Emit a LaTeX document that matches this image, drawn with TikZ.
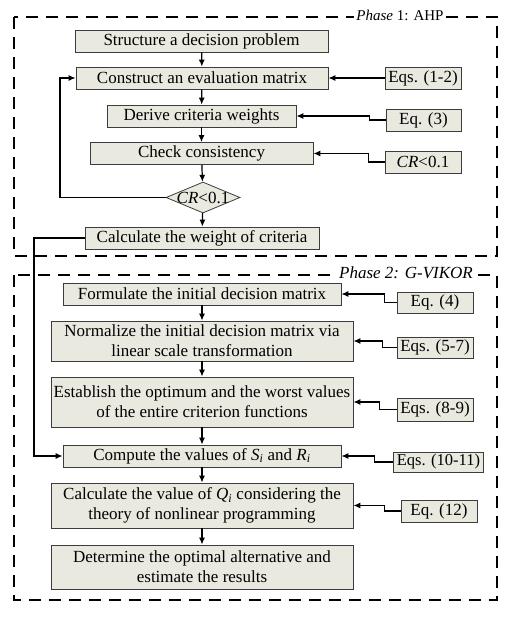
\documentclass[tikz,border=0pt]{standalone}
\usepackage{fontspec}
\setmainfont{Liberation Serif}
\usepackage{tikz}
\usetikzlibrary{arrows.meta,shapes.geometric}
\definecolor{BoxFill}{HTML}{E9E9E0}
\definecolor{BoxLine}{HTML}{3C3C3C}

\begin{document}
\begin{tikzpicture}[x=1pt,y=-1pt,
  stepbox/.style={draw=BoxLine,fill=BoxFill,line width=.8pt,inner sep=0pt,align=center,font=\fontsize{17}{20}\selectfont},
  eqbox/.style={draw=BoxLine,fill=BoxFill,line width=.8pt,inner sep=0pt,minimum height=22pt,font=\fontsize{17}{20}\selectfont},
  flow/.style={-{Latex[length=7pt,width=6pt]},line width=1.2pt},
  phase/.style={dash pattern=on 12pt off 8pt,line width=1.6pt},
  phaselabel/.style={fill=white,inner sep=2pt}]
\useasboundingbox (0,0) rectangle (515,619);
% phase frames
\draw[phase] (14,17) rectangle (497,256);
\node[phaselabel,font=\fontsize{15}{17}\selectfont] (ph1) at (400,15) {\textit{Phase} 1: AHP};
\draw[phase] (14,275) rectangle (497,600);
\node[phaselabel,font=\fontsize{17}{19}\selectfont] (ph2) at (406,273) {\textit{Phase 2: G-VIKOR}};
% phase 1 steps
\node[stepbox,minimum width=253pt,minimum height=22pt] (struct) at (201.5,41) {Structure a decision problem};
\node[stepbox,minimum width=252pt,minimum height=22pt] (constr) at (202,78) {Construct an evaluation matrix};
\node[stepbox,minimum width=189pt,minimum height=22pt] (derive) at (201.5,116) {Derive criteria weights};
\node[stepbox,minimum width=223pt,minimum height=22pt] (check) at (201.5,153.5) {Check consistency};
\node[diamond,draw=BoxLine,fill=BoxFill,line width=.8pt,inner sep=-6pt,aspect=2.4,minimum width=74pt,minimum height=31pt,font=\fontsize{17}{20}\selectfont] (cr) at (203,197.5) {\textit{CR}<0.1};
\node[stepbox,minimum width=234pt,minimum height=22pt] (weight) at (202,238) {Calculate the weight of criteria};
% phase 1 equations
\node[eqbox,minimum width=76pt] (e12) at (423,78) {Eqs. (1-2)};
\node[eqbox,minimum width=75pt] (e3) at (423.5,120) {Eq. (3)};
\node[eqbox,minimum width=76pt] (ecr) at (423,162) {\textit{CR}<0.1};
% phase 2 steps
\node[stepbox,minimum width=278pt,minimum height=22pt] (form) at (202,294) {Formulate the initial decision matrix};
\node[stepbox,minimum width=302pt,minimum height=40pt] (norm) at (202,341) {Normalize the initial decision matrix via\\linear scale transformation};
\node[stepbox,minimum width=302pt,minimum height=50pt] (optim) at (202,402) {Establish the optimum and the worst values\\of the entire criterion functions};
\node[stepbox,minimum width=278pt,minimum height=22pt] (sr) at (202,456) {Compute the values of \textit{S\textsubscript{i}} and \textit{R\textsubscript{i}}};
\node[stepbox,minimum width=302pt,minimum height=45pt] (qval) at (202,505.5) {Calculate the value of \textit{Q\textsubscript{i}} considering the\\theory of nonlinear programming};
\node[stepbox,minimum width=302pt,minimum height=44pt] (best) at (202,567) {Determine the optimal alternative and\\estimate the results};
% phase 2 equations
\node[eqbox,minimum width=76pt,minimum height=21pt] (e4) at (435,302.5) {Eq. (4)};
\node[eqbox,minimum width=76pt,minimum height=21pt] (e57) at (435,347.5) {Eqs. (5-7)};
\node[eqbox,minimum width=76pt,minimum height=23pt] (e89) at (435,409.5) {Eqs. (8-9)};
\node[eqbox,minimum width=90pt,minimum height=20pt,font=\fontsize{16.5}{20}\selectfont] (e1011) at (438.5,462) {Eqs. (10-11)};
\node[eqbox,minimum width=76pt,minimum height=22pt] (e12b) at (439,511) {Eq. (12)};
% main flow
\draw[flow] (struct) -- (constr);
\draw[flow] (constr) -- (derive);
\draw[flow] (derive) -- (check);
\draw[flow] (check) -- (cr);
\draw[flow] (cr) -- (weight);
\draw[flow] (cr.west) -- (60,197.5) |- (constr.west);
\draw[flow] (weight.west) -- (34,238) |- (sr.west);
\draw[flow] (form) -- (norm);
\draw[flow] (norm) -- (optim);
\draw[flow] (optim) -- (sr);
\draw[flow] (sr) -- (qval);
\draw[flow] (qval) -- (best);
% equation inputs
\draw[flow] (e12.west) -- (constr.east);
\draw[flow] (e3.west) -- ++(-16,0) |- (derive.east);
\draw[flow] (ecr.west) -- ++(-16,0) |- (check.east);
\draw[flow] (e4.west) -- ++(-12,0) |- (form.east);
\draw[flow] (e57.west) -- ++(-14,0) |- (norm.east);
\draw[flow] (e89.west) -- ++(-17,0) |- (optim.east);
\draw[flow] (e1011.west) -- ++(-19,0) |- (sr.east);
\draw[flow] (e12b.west) -- ++(-16,0) |- (qval.east);
\end{tikzpicture}
\end{document}
